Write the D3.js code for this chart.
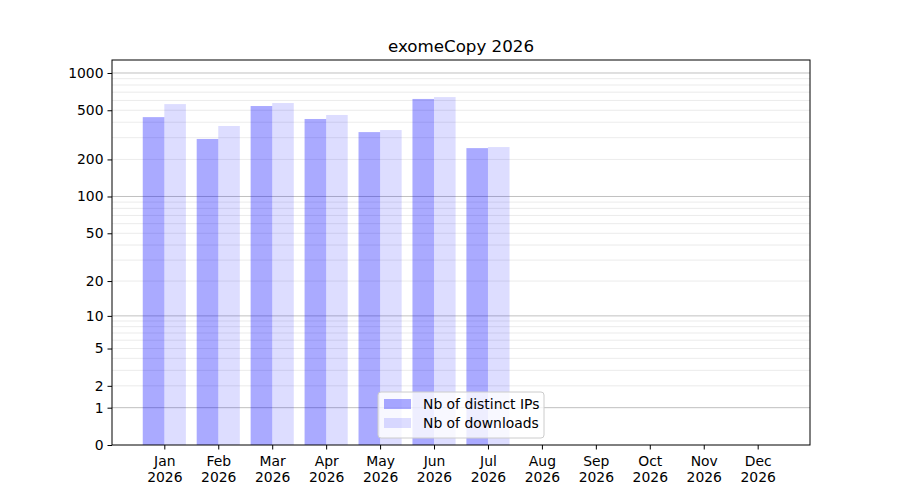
<!DOCTYPE html>
<html>
<head>
<meta charset="utf-8">
<script src="https://cdn.jsdelivr.net/npm/d3@7"></script>
<style>
  body { margin: 0; background: #fff; }
  text { font-family: "DejaVu Sans", sans-serif; fill: #000; }
</style>
</head>
<body>
<div id="chart"></div>
<script>
let months = ["Jan", "Feb", "Mar", "Apr", "May", "Jun", "Jul", "Aug", "Sep", "Oct", "Nov", "Dec"]
let year = "2026"
let distinctIPs = [440, 293, 541, 425, 333, 617, 247, 0, 0, 0, 0, 0]
let downloads = [561, 373, 572, 458, 346, 639, 252, 0, 0, 0, 0, 0]
let yTicks = [0, 1, 2, 5, 10, 20, 50, 100, 200, 500, 1000]
let seriesNames = ["Nb of distinct IPs", "Nb of downloads"]

let width = 900, height = 500
let margin = {top: 60, right: 90, bottom: 55, left: 112}

let svg = d3.select("#chart").append("svg")
  .attr("width", width)
  .attr("height", height)

// x positions: one slot per month, bars take 0.4 of a slot each
let x = d3.scaleLinear()
  .domain([-0.97, 11.97])
  .range([margin.left, width - margin.right])
let slot = x(1) - x(0)
let barW = slot * 0.4

// log(1+x) scale, same as symlog with constant 1
let y = d3.scaleSymlog()
  .constant(1)
  .domain([0, 1273])
  .range([height - margin.bottom, margin.top])

// grid lines
let minor = []
;[1, 10, 100].forEach(function(d) {
  for (let k = 2; k < 10; k++) minor.push(d * k)
})
let major = [1, 10, 100, 1000]

svg.append("g").selectAll("line")
  .data(minor)
  .join("line")
  .attr("x1", margin.left).attr("x2", width - margin.right)
  .attr("y1", d => y(d)).attr("y2", d => y(d))
  .attr("stroke", "#e6e6e6")
  .attr("stroke-width", 0.8)

svg.append("g").selectAll("line")
  .data(major)
  .join("line")
  .attr("x1", margin.left).attr("x2", width - margin.right)
  .attr("y1", d => y(d)).attr("y2", d => y(d))
  .attr("stroke", "#b0b0b0")
  .attr("stroke-width", 0.8)

// bars
svg.append("g").selectAll("rect")
  .data(distinctIPs)
  .join("rect")
  .attr("x", (d, i) => x(i) - barW)
  .attr("width", barW)
  .attr("y", d => y(d))
  .attr("height", d => y(0) - y(d))
  .attr("fill", "blue")
  .attr("fill-opacity", 0.333)

svg.append("g").selectAll("rect")
  .data(downloads)
  .join("rect")
  .attr("x", (d, i) => x(i))
  .attr("width", barW)
  .attr("y", d => y(d))
  .attr("height", d => y(0) - y(d))
  .attr("fill", "blue")
  .attr("fill-opacity", 0.133)

// axes frame
svg.append("rect")
  .attr("x", margin.left)
  .attr("y", margin.top)
  .attr("width", width - margin.right - margin.left)
  .attr("height", height - margin.bottom - margin.top)
  .attr("fill", "none")
  .attr("stroke", "#000")
  .attr("stroke-width", 1)

// y axis
let yAxis = svg.append("g")
  .attr("transform", "translate(" + margin.left + ",0)")
  .call(d3.axisLeft(y).tickValues(yTicks).tickSize(4.5).tickPadding(4).tickFormat(d3.format("d")))
yAxis.select(".domain").remove()
yAxis.selectAll("text").style("font-size", "13.9px").style("font-family", "DejaVu Sans")

// x axis
let xAxis = svg.append("g")
  .attr("transform", "translate(0," + (height - margin.bottom) + ")")
  .call(d3.axisBottom(x).tickValues(d3.range(months.length)).tickSize(4.5).tickFormat(""))
xAxis.select(".domain").remove()
xAxis.selectAll(".tick").each(function(d) {
  let t = d3.select(this).append("text")
    .attr("text-anchor", "middle")
    .style("font-size", "13.9px")
    .style("font-family", "DejaVu Sans")
    .attr("fill", "#000")
  t.append("tspan").attr("x", 0).attr("y", 21).text(months[d])
  t.append("tspan").attr("x", 0).attr("y", 37).text(year)
})

// title
svg.append("text")
  .attr("x", (margin.left + width - margin.right) / 2)
  .attr("y", 52)
  .attr("text-anchor", "middle")
  .style("font-size", "16.7px")
  .text("exomeCopy 2026")

// legend
let lg = svg.append("g").attr("transform", "translate(378,392)")
lg.append("rect")
  .attr("width", 166).attr("height", 46)
  .attr("rx", 3)
  .attr("fill", "#fff").attr("fill-opacity", 0.8)
  .attr("stroke", "#cccccc")
let legendOpacity = [0.333, 0.133]
seriesNames.forEach(function(name, i) {
  lg.append("rect")
    .attr("x", 6).attr("y", 7 + i * 19)
    .attr("width", 27).attr("height", 10)
    .attr("fill", "blue").attr("fill-opacity", legendOpacity[i])
  lg.append("text")
    .attr("x", 45).attr("y", 17 + i * 19)
    .style("font-size", "13.9px")
    .text(name)
})
</script>
</body>
</html>
